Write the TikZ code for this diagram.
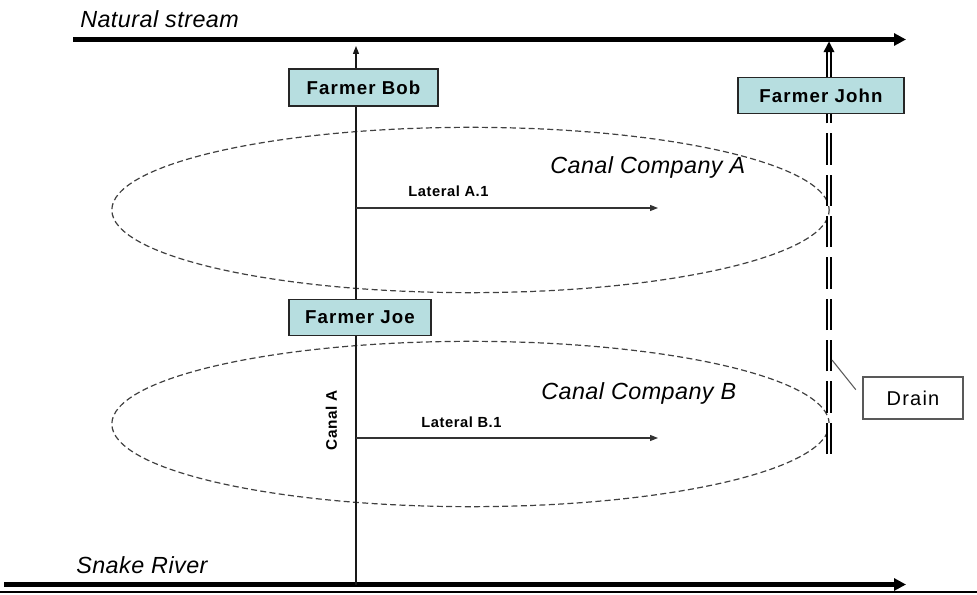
\documentclass[tikz,border=0pt]{standalone}
\usepackage{fontspec}
\setmainfont{Liberation Sans}
\newfontfamily\streamfont[LetterSpace=2]{Liberation Sans}
\newfontfamily\boxfont[LetterSpace=6]{Liberation Sans}
\newfontfamily\labelfont[LetterSpace=4]{Liberation Sans}
\usepackage{tikz}
\usetikzlibrary{positioning, calc, arrows.meta, shapes.geometric}
\definecolor{farmfill}{RGB}{183,222,224}
\tikzset{stream/.style={line width=3.3pt, -{Triangle[length=9pt, width=9pt]}}}
\tikzset{streamLabel/.style={anchor=base west, inner sep=0pt, font=\streamfont\itshape\fontsize{17.5}{19}\selectfont}}
\tikzset{farmer/.style={draw=black!85, fill=farmfill, line width=0.8pt, minimum height=26.5pt, inner sep=0pt, font=\boxfont\bfseries\fontsize{14}{16}\selectfont}}
\tikzset{company/.style={ellipse, draw=black!75, line width=0.9pt, dash pattern=on 4.5pt off 2.5pt, inner sep=0pt, minimum width=538pt, minimum height=124pt}}
\tikzset{canal/.style={draw=black!90, line width=0.8pt, -{Triangle[length=6pt, width=4.5pt]}}}
\tikzset{lateral/.style={draw=black!80, line width=0.8pt, -{Triangle[length=6pt, width=4.5pt]}}}
\tikzset{lateralLabel/.style={anchor=base west, inner sep=0pt, font=\labelfont\bfseries\fontsize{11}{13}\selectfont}}
\tikzset{drainpipe/.style={double=white, double distance=1.6pt, line width=1.2pt}}

\begin{document}
\begin{tikzpicture}[x=0.75pt, y=-0.75pt]

      \useasboundingbox (0,0) rectangle (977,595);

      % STREAMS

      \coordinate (nsStart) at (73,39.5);
      \coordinate (nsEnd) at (906,39.5);
      \coordinate (srStart) at (4,584.5);
      \coordinate (srEnd) at (906,584.5);
      \coordinate (baseL) at (0,592);
      \coordinate (baseR) at (977,592);
      \draw[stream] (nsStart) -- (nsEnd);
      \draw[stream] (srStart) -- (srEnd);
      \draw[line width=1.2pt] (baseL) -- (baseR);

      \node[streamLabel] (nsLabel) at (80,28) {Natural stream};
      \node[streamLabel] (srLabel) at (76,573) {Snake River};

      % CANAL COMPANIES

      \node[company] (ccA) at (470.5,210) {};
      \node[company] (ccB) at (470.5,424) {};
      \node[streamLabel] (ccALabel) at (550,174) {Canal Company A};
      \node[streamLabel] (ccBLabel) at (541,399) {Canal Company B};

      % CANAL AND LATERALS

      \coordinate (canalFoot) at (356,584.5);
      \coordinate (canalHead) at (356,46);
      \draw[canal] (canalFoot) -- (canalHead);
      \node[rotate=90, inner sep=0pt, font=\labelfont\bfseries\fontsize{11.5}{13}\selectfont] (canalLabel) at (331.5,420) {Canal A};

      \coordinate (latAEnd) at (658,208);
      \coordinate (latBEnd) at (658,438);
      \draw[lateral] (latAEnd -| canalFoot) -- (latAEnd);
      \draw[lateral] (latBEnd -| canalFoot) -- (latBEnd);
      \node[lateralLabel] (latALabel) at (408,197) {Lateral A.1};
      \node[lateralLabel] (latBLabel) at (421,427) {Lateral B.1};

      % FARMERS

      \node[farmer, minimum width=111.75pt, minimum height=27.75pt] (bob) at (363.5,87.5) {Farmer Bob};
      \node[farmer, minimum width=106.5pt] (joe) at (360,317.5) {Farmer Joe};
      \node[farmer, minimum width=124.5pt] (john) at (821,95.5) {Farmer John};

      % DRAIN

      \coordinate (pipeFoot) at (829,454);
      \coordinate (pipeTap) at (832,360);
      \draw[drainpipe, dash pattern=on 23.5pt off 7.5pt] (pipeFoot) -- (john.south -| pipeFoot);
      \draw[drainpipe, -{Triangle[length=8pt, width=8pt]}, shorten >=1.5pt] (john.north -| pipeFoot) -- (nsEnd -| pipeFoot);

      \node[draw=black!65, fill=white, line width=0.8pt, minimum width=75pt, minimum height=31.5pt, inner sep=0pt, font=\boxfont\fontsize{15}{17}\selectfont] (drain) at (913,398) {Drain};
      \draw[black!65, line width=0.8pt, shorten >=8pt] (pipeTap) -- (drain.west);

    \end{tikzpicture}
\end{document}
